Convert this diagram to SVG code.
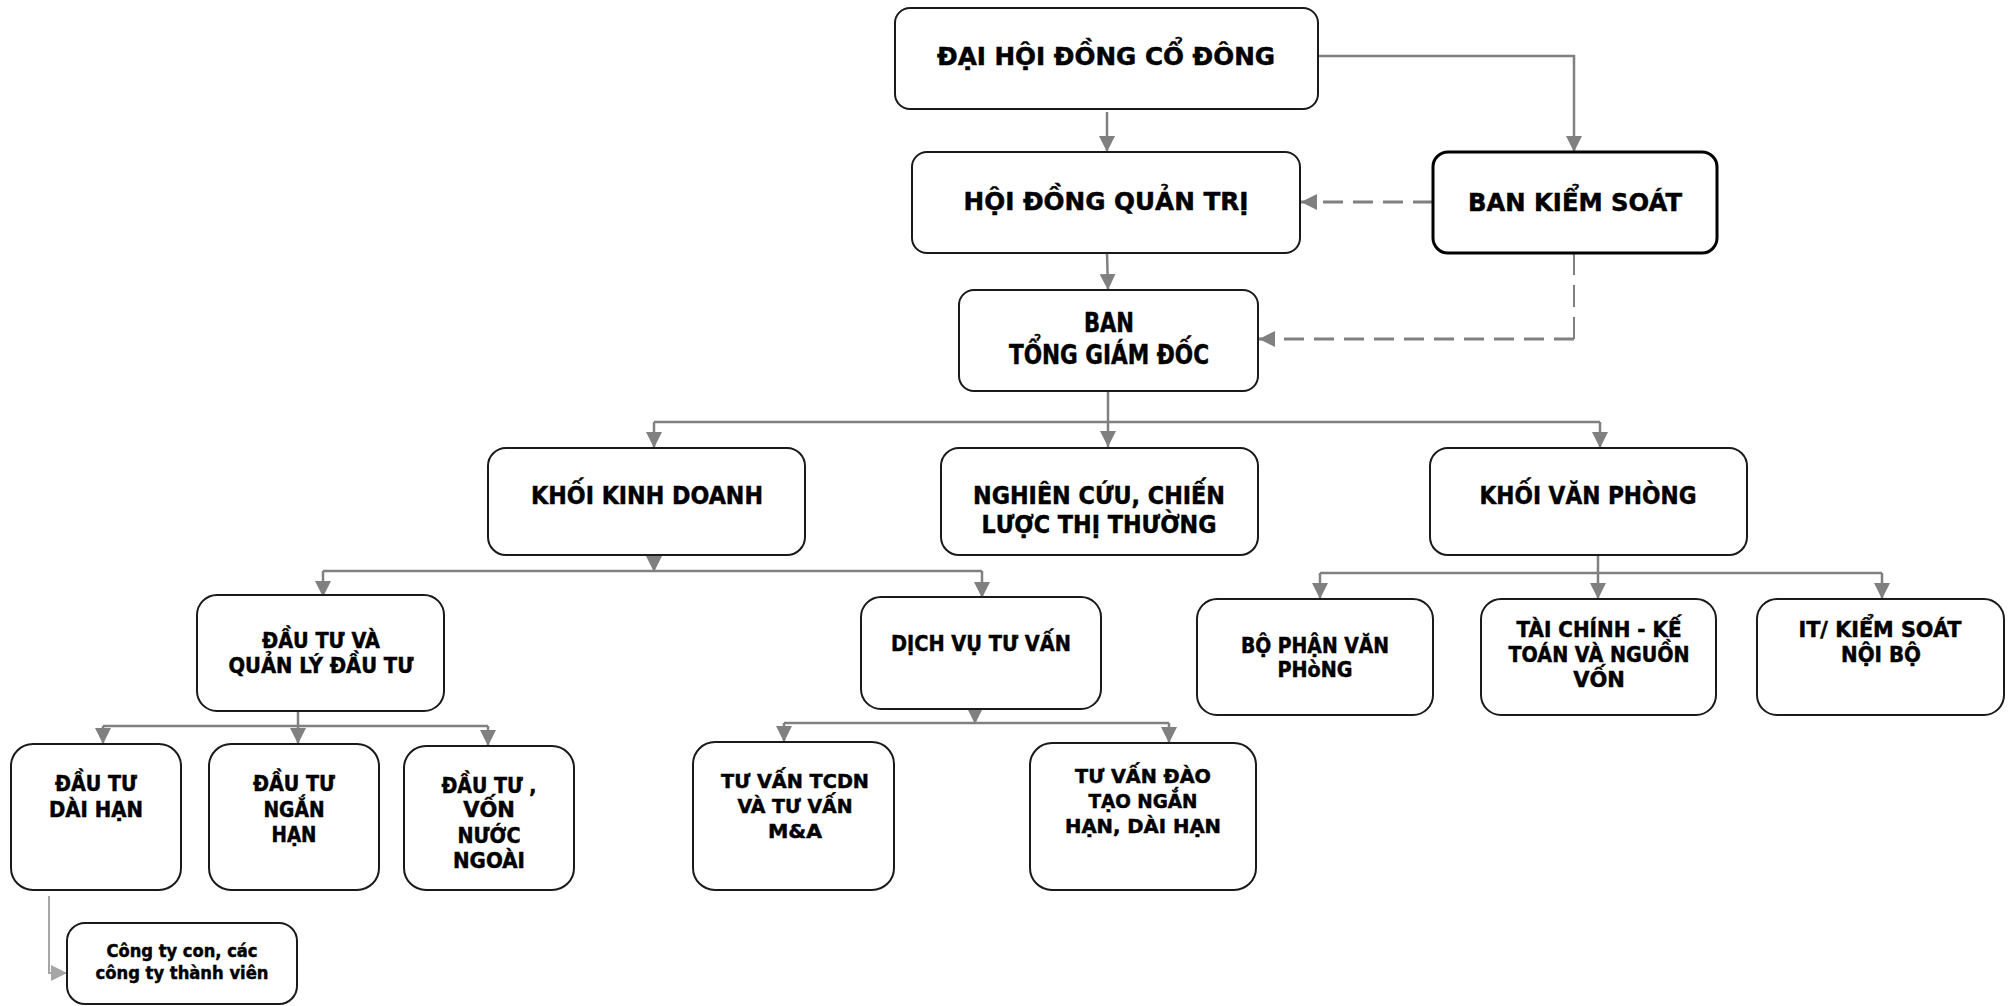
<svg xmlns="http://www.w3.org/2000/svg" width="2011" height="1006" viewBox="0 0 2011 1006">
<style>
.box{fill:#fff;stroke:#1a1a1a;stroke-width:2}
.bks{fill:#fff;stroke:#000;stroke-width:3}
.t{font-family:"DejaVu Sans","Liberation Sans",sans-serif;font-weight:bold;fill:#000;stroke:#000;stroke-width:0.5;text-anchor:middle}
.f26{font-size:26px}
.f25{font-size:25px}
.f22{font-size:22px}
.f21{font-size:21px}
.f19{font-size:19px}
.f18{font-size:18px}
.c{fill:none;stroke:#808080;stroke-width:2.5}
.d{fill:none;stroke:#808080;stroke-width:3;stroke-dasharray:20 10}
.dv{fill:none;stroke:#808080;stroke-width:2;stroke-dasharray:22 10}
.l{fill:none;stroke:#a6a6a6;stroke-width:2}
</style>
<defs>
<marker id="a" markerWidth="16" markerHeight="16" refX="16" refY="8" orient="auto" markerUnits="userSpaceOnUse"><path d="M0,0 L16,8 L0,16 z" fill="#808080"/></marker>
<marker id="al" markerWidth="16" markerHeight="16" refX="16" refY="8" orient="auto" markerUnits="userSpaceOnUse"><path d="M0,0 L16,8 L0,16 z" fill="#a6a6a6"/></marker>
</defs>
<g id="connectors">
<path class="c" d="M1107,112 V152" marker-end="url(#a)"/>
<path class="c" d="M1318,56 H1574 V152" marker-end="url(#a)"/>
<path class="d" d="M1433,202 H1301" marker-end="url(#a)"/>
<path class="c" d="M1107,253 L1108,290" marker-end="url(#a)"/>
<path class="dv" d="M1574,253 V339"/>
<path class="d" d="M1574,339 H1259" marker-end="url(#a)"/>
<path class="c" d="M1108,391 V447" marker-end="url(#a)"/>
<path class="c" d="M654,422 H1600"/>
<path class="c" d="M654,422 V448" marker-end="url(#a)"/>
<path class="c" d="M1600,422 V448" marker-end="url(#a)"/>
<path class="c" d="M654,555 V572" marker-end="url(#a)"/>
<path class="c" d="M323,571 H982"/>
<path class="c" d="M323,571 V597" marker-end="url(#a)"/>
<path class="c" d="M982,571 V598" marker-end="url(#a)"/>
<path class="c" d="M1598,555 V599" marker-end="url(#a)"/>
<path class="c" d="M1320,573 H1882"/>
<path class="c" d="M1320,573 V599" marker-end="url(#a)"/>
<path class="c" d="M1882,573 V599" marker-end="url(#a)"/>
<path class="c" d="M298,711 V744" marker-end="url(#a)"/>
<path class="c" d="M103,726 H488"/>
<path class="c" d="M103,726 V744" marker-end="url(#a)"/>
<path class="c" d="M488,726 V746" marker-end="url(#a)"/>
<path class="c" d="M975,709 V724" marker-end="url(#a)"/>
<path class="c" d="M784,723 H1169"/>
<path class="c" d="M784,723 V742" marker-end="url(#a)"/>
<path class="c" d="M1169,723 V743" marker-end="url(#a)"/>
<path class="l" d="M49,896 V973 H67" marker-end="url(#al)"/>
</g>
<g id="dhdcd">
<rect class="box" x="895" y="8" width="423" height="101" rx="15"/>
<text class="t f25" x="1106" y="65" textLength="338" lengthAdjust="spacingAndGlyphs">ĐẠI HỘI ĐỒNG CỔ ĐÔNG</text>
</g>
<g id="hdqt">
<rect class="box" x="912" y="152" width="388" height="101" rx="15"/>
<text class="t f25" x="1106" y="210" textLength="285" lengthAdjust="spacingAndGlyphs">HỘI ĐỒNG QUẢN TRỊ</text>
</g>
<g id="bks">
<rect class="bks" x="1433" y="152" width="284" height="101" rx="15"/>
<text class="t f25" x="1575" y="211" textLength="214" lengthAdjust="spacingAndGlyphs">BAN KIỂM SOÁT</text>
</g>
<g id="tgd">
<rect class="box" x="959" y="290" width="299" height="101" rx="15"/>
<text class="t f26" x="1109" y="332" textLength="50" lengthAdjust="spacingAndGlyphs">BAN</text>
<text class="t f26" x="1109" y="364" textLength="200" lengthAdjust="spacingAndGlyphs">TỔNG GIÁM ĐỐC</text>
</g>
<g id="kkd">
<rect class="box" x="488" y="448" width="317" height="107" rx="18"/>
<text class="t f25" x="647" y="504" textLength="232" lengthAdjust="spacingAndGlyphs">KHỐI KINH DOANH</text>
</g>
<g id="nccl">
<rect class="box" x="941" y="448" width="317" height="107" rx="18"/>
<text class="t f25" x="1099" y="504" textLength="252" lengthAdjust="spacingAndGlyphs">NGHIÊN CỨU, CHIẾN</text>
<text class="t f25" x="1099" y="533" textLength="235" lengthAdjust="spacingAndGlyphs">LƯỢC THỊ THƯỜNG</text>
</g>
<g id="kvp">
<rect class="box" x="1430" y="448" width="317" height="107" rx="18"/>
<text class="t f25" x="1588" y="504" textLength="217" lengthAdjust="spacingAndGlyphs">KHỐI VĂN PHÒNG</text>
</g>
<g id="dtqldt">
<rect class="box" x="197" y="595" width="247" height="116" rx="20"/>
<text class="t f21" x="321" y="648" textLength="118" lengthAdjust="spacingAndGlyphs">ĐẦU TƯ VÀ</text>
<text class="t f21" x="321" y="673" textLength="185" lengthAdjust="spacingAndGlyphs">QUẢN LÝ ĐẦU TƯ</text>
</g>
<g id="dvtv">
<rect class="box" x="861" y="597" width="240" height="112" rx="20"/>
<text class="t f22" x="981" y="651" textLength="180" lengthAdjust="spacingAndGlyphs">DỊCH VỤ TƯ VẤN</text>
</g>
<g id="bpvp">
<rect class="box" x="1197" y="599" width="236" height="116" rx="20"/>
<text class="t f21" x="1315" y="653" textLength="148" lengthAdjust="spacingAndGlyphs">BỘ PHẬN VĂN</text>
<text class="t f21" x="1315" y="677" textLength="75" lengthAdjust="spacingAndGlyphs">PHòNG</text>
</g>
<g id="tckt">
<rect class="box" x="1481" y="599" width="235" height="116" rx="20"/>
<text class="t f21" x="1599" y="637" textLength="165" lengthAdjust="spacingAndGlyphs">TÀI CHÍNH - KẾ</text>
<text class="t f21" x="1599" y="662" textLength="181" lengthAdjust="spacingAndGlyphs">TOÁN VÀ NGUỒN</text>
<text class="t f21" x="1599" y="687">VỐN</text>
</g>
<g id="itks">
<rect class="box" x="1757" y="599" width="247" height="116" rx="20"/>
<text class="t f21" x="1880" y="637" textLength="163" lengthAdjust="spacingAndGlyphs">IT/ KIỂM SOÁT</text>
<text class="t f21" x="1881" y="662" textLength="80" lengthAdjust="spacingAndGlyphs">NỘI BỘ</text>
</g>
<g id="dtdh">
<rect class="box" x="11" y="744" width="170" height="146" rx="22"/>
<text class="t f21" x="96" y="791" textLength="82" lengthAdjust="spacingAndGlyphs">ĐẦU TƯ</text>
<text class="t f21" x="96" y="817" textLength="94" lengthAdjust="spacingAndGlyphs">DÀI HẠN</text>
</g>
<g id="dtnh">
<rect class="box" x="209" y="744" width="170" height="146" rx="22"/>
<text class="t f21" x="294" y="791" textLength="82" lengthAdjust="spacingAndGlyphs">ĐẦU TƯ</text>
<text class="t f21" x="294" y="817" textLength="61" lengthAdjust="spacingAndGlyphs">NGẮN</text>
<text class="t f21" x="294" y="842" textLength="45" lengthAdjust="spacingAndGlyphs">HẠN</text>
</g>
<g id="dtvnn">
<rect class="box" x="404" y="746" width="170" height="144" rx="22"/>
<text class="t f21" x="489" y="793" textLength="95" lengthAdjust="spacingAndGlyphs">ĐẦU TƯ ,</text>
<text class="t f21" x="489" y="817">VỐN</text>
<text class="t f21" x="489" y="843" textLength="63" lengthAdjust="spacingAndGlyphs">NƯỚC</text>
<text class="t f21" x="489" y="868" textLength="72" lengthAdjust="spacingAndGlyphs">NGOÀI</text>
</g>
<g id="tcdn">
<rect class="box" x="693" y="742" width="201" height="148" rx="22"/>
<text class="t f19" x="795" y="788" textLength="148" lengthAdjust="spacingAndGlyphs">TƯ VẤN TCDN</text>
<text class="t f19" x="795" y="813" textLength="115" lengthAdjust="spacingAndGlyphs">VÀ TƯ VẤN</text>
<text class="t f19" x="795" y="838" textLength="54" lengthAdjust="spacingAndGlyphs">M&amp;A</text>
</g>
<g id="daotao">
<rect class="box" x="1030" y="743" width="226" height="147" rx="22"/>
<text class="t f19" x="1143" y="783" textLength="136" lengthAdjust="spacingAndGlyphs">TƯ VẤN ĐÀO</text>
<text class="t f19" x="1143" y="808" textLength="109" lengthAdjust="spacingAndGlyphs">TẠO NGẮN</text>
<text class="t f19" x="1143" y="833" textLength="156" lengthAdjust="spacingAndGlyphs">HẠN, DÀI HẠN</text>
</g>
<g id="congty">
<rect class="box" x="67" y="923" width="230" height="81" rx="18"/>
<text class="t f18" x="182" y="957" textLength="151" lengthAdjust="spacingAndGlyphs">Công ty con, các</text>
<text class="t f18" x="182" y="979" textLength="173" lengthAdjust="spacingAndGlyphs">công ty thành viên</text>
</g>
</svg>
